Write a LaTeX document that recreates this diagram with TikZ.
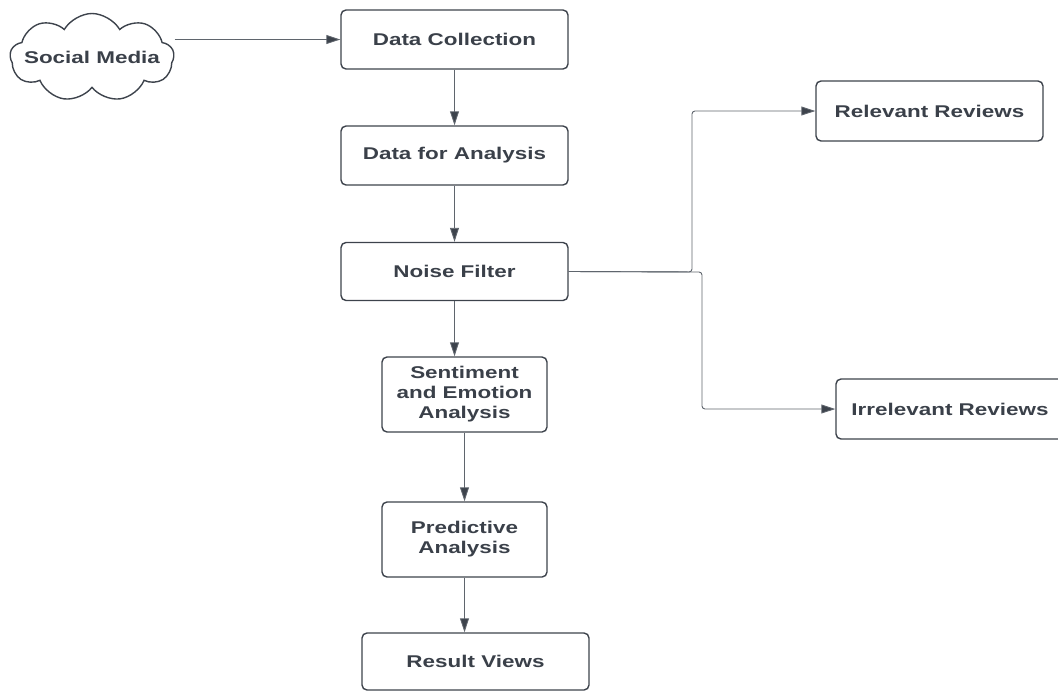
\documentclass[tikz,border=0pt]{standalone}
\usepackage{fontspec}
\newfontfamily\flowfont{Liberation Sans}[FakeStretch=1.32]
\usepackage{tikz}
\usetikzlibrary{shapes.symbols, arrows.meta}

\definecolor{boxline}{HTML}{3D434C}
\definecolor{linkline}{HTML}{5F656D}
\definecolor{boxtext}{HTML}{3A4049}

\tikzset{
    flowbox/.style={draw=boxline, line width=1.4pt, rounded corners=5pt,
        minimum width=227pt, minimum height=59pt, align=center,
        text=boxtext, font=\flowfont\bfseries\fontsize{17}{20}\selectfont},
    link/.style={draw=linkline, line width=0.9pt,
        -{Triangle[length=14pt,width=9pt,fill=boxline]}}
}

\begin{document}
\begin{tikzpicture}[x=1pt, y=-1pt]
    \useasboundingbox (0,0) rectangle (1058,691);

    % source
    \node (social) [cloud, cloud puffs=9, cloud puff arc=120, aspect=1.85,
        draw=boxline, line width=1.4pt, minimum width=164pt, minimum height=88pt,
        inner sep=0pt, text=boxtext, font=\flowfont\bfseries\fontsize{17}{20}\selectfont]
        at (92,57.5) {\makebox[40pt]{Social Media}};

    % main chain
    \node (collect) [flowbox] at (454.5,39.5) {Data Collection};
    \node (analysisdata) [flowbox] at (454.5,155.5) {Data for Analysis};
    \node (noise) [flowbox, minimum height=58pt] at (454.5,271.5) {Noise Filter};
    \node (sentiment) [flowbox, minimum width=165pt, minimum height=75pt] at (464.5,394.5)
        {Sentiment\\and Emotion\\Analysis};
    \node (predict) [flowbox, minimum width=165pt, minimum height=75pt] at (464.5,539.5)
        {Predictive\\Analysis};
    \node (result) [flowbox, minimum height=57pt] at (475.5,661.5) {Result Views};

    % filter outputs
    \node (relevant) [flowbox, minimum height=60pt] at (929.5,111) {Relevant Reviews};
    \node (irrelevant) [flowbox, minimum width=228pt, minimum height=60pt] at (950,409)
        {Irrelevant Reviews};

    \coordinate (splitA) at (692,272);
    \coordinate (splitB) at (702,272);

    \draw [link] (social.east |- collect.west) -- (collect.west);
    \draw [link] (collect) -- (analysisdata);
    \draw [link] (analysisdata) -- (noise);
    \draw [link] (noise.south) -- (noise.south |- sentiment.north);
    \draw [link] (sentiment) -- (predict);
    \draw [link] (predict.south) -- (predict.south |- result.north);

    \draw [link, rounded corners=3pt] (noise.east) -- (splitA) |- (relevant.west);
    \draw [link, rounded corners=3pt] (noise.east) -- (splitB) |- (irrelevant.west);
\end{tikzpicture}
\end{document}
